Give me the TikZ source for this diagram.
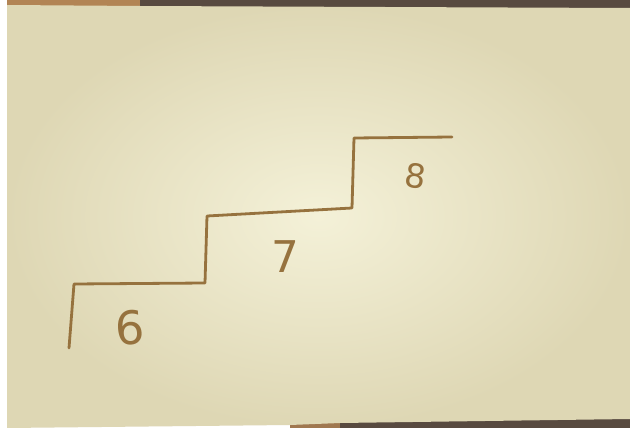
\documentclass[tikz,border=0pt]{standalone}
\usepackage{fontspec}
\setmainfont{DejaVu Sans}
\definecolor{ink}{RGB}{150,114,62}
\definecolor{paperin}{RGB}{244,241,216}
\definecolor{paperout}{RGB}{222,215,180}
\definecolor{tabletop}{RGB}{88,74,64}
\definecolor{tablewarm}{RGB}{178,132,84}
\tikzset{
  stair/.style={draw=ink, line width=2.8pt, line join=round, line cap=round},
  digit/.style={text=ink, font=\fontsize{46}{46}\selectfont, inner sep=0pt}
}
\begin{document}
\begin{tikzpicture}[x=1pt,y=-1pt]
\useasboundingbox (0,0) rectangle (630,428);
% background: white left margin, table strips
\fill[white] (0,0) rectangle (630,428);
\fill[tabletop] (7,0) rectangle (630,12);
\fill[tablewarm] (7,0) rectangle (140,10);
\fill[tabletop] (300,415) rectangle (630,428);
\fill[tablewarm!80!tabletop] (290,415) rectangle (340,428);
% paper
\shade[inner color=paperin, outer color=paperout]
  (7,5) -- (140,6) -- (630,8) -- (630,419) -- (340,423) -- (290,425) -- (7,428) -- cycle;
% staircase
\coordinate (s0) at (69,348);
\coordinate (s1) at (74,284);
\coordinate (s2) at (205,283);
\coordinate (s3) at (207,216);
\coordinate (s4) at (352,208);
\coordinate (s5) at (354,138);
\coordinate (s6) at (452,137);
\draw[stair] (s0) -- (s1) -- (s2) -- (s3) -- (s4) -- (s5) -- (s6);
% labels
\node[digit, rotate=4] (n6) at (130,328) {6};
\node[digit, scale=0.95] (n7) at (285,257) {7};
\node[digit, scale=0.72, rotate=-8] (n8) at (416,176) {8};
\end{tikzpicture}
\end{document}
